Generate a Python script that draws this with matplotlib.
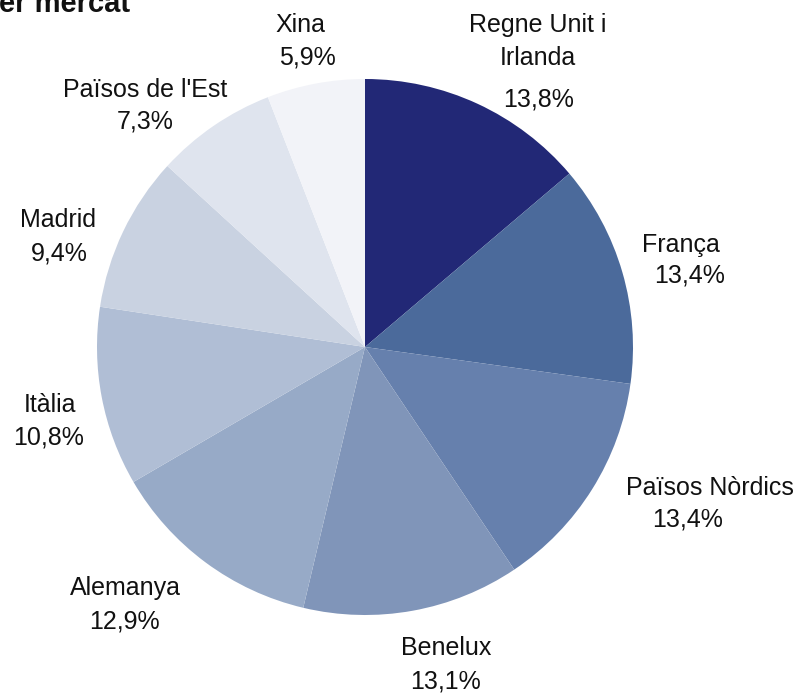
import matplotlib
matplotlib.use("Agg")
import matplotlib.pyplot as plt

plt.rcParams['font.family'] = ['Liberation Sans', 'DejaVu Sans']

# Share per market (%), clockwise from 12 o'clock
markets = ["Regne Unit i\nIrlanda", "França", "Països Nòrdics", "Benelux", "Alemanya",
           "Itàlia", "Madrid", "Països de l'Est", "Xina"]
shares = [13.8, 13.4, 13.4, 13.1, 12.9, 10.8, 9.4, 7.3, 5.9]
share_labels = ["13,8%", "13,4%", "13,4%", "13,1%", "12,9%", "10,8%", "9,4%", "7,3%", "5,9%"]

colors = ["#222876", "#4b6a9b", "#6680ad", "#8095b9", "#97aac7",
          "#b0bed5", "#c9d2e1", "#dfe4ee", "#f2f3f8"]

W, H = 799, 693
# label layout in image pixels (centre x, baseline y): name, then percentage
label_pos = [(538, 32, 539, 106), (681, 252, 690, 283), (710, 495, 688, 527),
             (446, 655, 446, 688), (125, 595, 124, 628), (50, 412, 49, 445),
             (58, 227, 59, 260), (145, 97, 145, 128), (300, 32, 307, 65)]
line_step = 33

fig = plt.figure(figsize=(W / 100, H / 100), dpi=100)
ax = fig.add_axes([0, 0, 1, 1])

ax.pie(shares, colors=colors, startangle=90, counterclock=False,
       center=(365, H - 347), radius=268, frame=True,
       wedgeprops=dict(linewidth=0))
ax.set_xlim(0, W)
ax.set_ylim(0, H)
ax.set_aspect('equal')
ax.axis('off')

for name, pct, (nx, ny, px, py) in zip(markets, share_labels, label_pos):
    for i, line in enumerate(name.split("\n")):
        ax.text(nx, H - ny - i * line_step, line, ha='center', va='baseline',
                fontsize=18, color='#111111')
    ax.text(px, H - py, pct, ha='center', va='baseline', fontsize=18, color='#111111')

ax.text(-1, H - 12, "er mercat", ha='left', va='baseline', fontsize=21,
        fontweight='bold', color='#111111')

fig.savefig("out.png", dpi=100)
